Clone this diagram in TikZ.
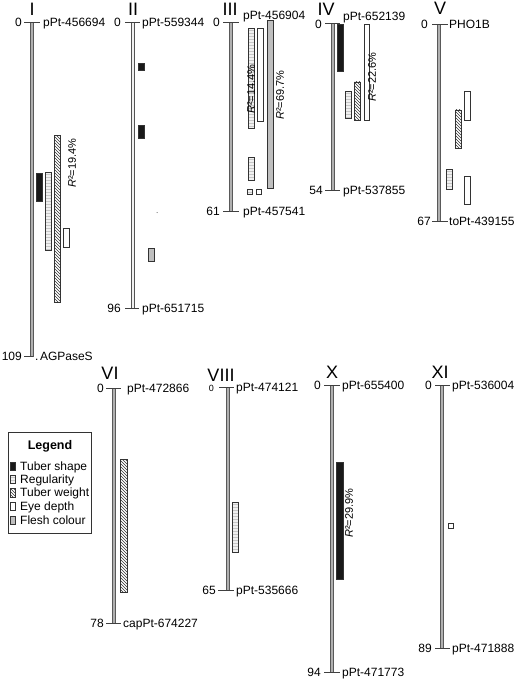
\documentclass[tikz,border=0pt]{standalone}
\usepackage{fontspec}
\setmainfont{Liberation Sans}
\usetikzlibrary{patterns}
\begin{document}
\begin{tikzpicture}[x=1pt,y=-1pt,
  lbl/.style={font=\fontsize{12}{14}\selectfont, inner sep=0pt, text height=8.6pt, text depth=0pt},
  lgt/.style={font=\fontsize{12}{14}\selectfont, inner sep=0pt, text height=8.6pt, text depth=0pt, anchor=west},
  rom/.style={font=\fontsize{18}{20}\selectfont, inner sep=0pt},
  rsq/.style={font=\fontsize{11}{13}\selectfont, inner sep=0pt, rotate=90},
  chr/.style={fill=gray!62, draw=gray!70!black, line width=0.3pt},
  tk/.style={draw=black!75, line width=0.6pt},
  q/.style={draw=black!80, line width=0.6pt},
  shp/.style={q, fill=black!90},
  reg/.style={q, preaction={fill=gray!12}, pattern=horizontal lines, pattern color=gray!45},
  wgt/.style={q, preaction={fill=white}, pattern=north west lines, pattern color=black!80},
  eye/.style={q, fill=white},
  fl/.style={q, fill=gray!50},
]
\useasboundingbox[fill=white] (0,0) rectangle (520,682);

% ---------- I ----------
\path[chr] (30.5,22) rectangle (33.5,356);
\draw[tk] (24,22) -- (40,22);
\draw[tk] (24,356) -- (33,356);
\node[rom] (t1) at (32,9.5) {I};
\node[lbl, anchor=east] (z1) at (22,22) {0};
\node[lbl, anchor=west] (m1a) at (43,22) {pPt-456694};
\node[lbl, anchor=east] (e1) at (22,356) {109};
\node[lbl, anchor=west] (m1b) at (35,356) {.\hspace{1.5pt}AGPaseS};
\path[shp] (36,173) rectangle (42,201);
\path[reg] (45,172) rectangle (51,250);
\path[wgt] (54,135) rectangle (60,302);
\path[eye] (63,228) rectangle (69,247);
\node[rsq] (r1) at (72,163) {{\itshape R}²=19.4\%};

% ---------- II ----------
\path[draw=gray!65!black, fill=gray!12, line width=0.7pt] (131.2,22) rectangle (134.8,308);
\draw[tk] (125,22) -- (140,22);
\draw[tk] (125,308) -- (139,308);
\node[rom] (t2) at (133,9.5) {II};
\node[lbl, anchor=east] (z2) at (121,22) {0};
\node[lbl, anchor=west] (m2a) at (142,22) {pPt-559344};
\node[lbl, anchor=east] (e2) at (121,308) {96};
\node[lbl, anchor=west] (m2b) at (142,308) {pPt-651715};
\path[shp] (138,63) rectangle (144,70);
\path[shp] (138,125) rectangle (144.5,138);
\fill[black!70] (157,212.5) circle (0.5);
\path[fl] (148,248) rectangle (154,261);

% ---------- III ----------
\path[chr] (229.5,22) rectangle (232.5,211);
\draw[tk] (223,22) -- (239,22);
\draw[tk] (223,211) -- (239,211);
\node[rom] (t3) at (230,9.5) {III};
\node[lbl, anchor=east] (z3) at (220,22) {0};
\node[lbl, anchor=west] (m3a) at (243,15) {pPt-456904};
\node[lbl, anchor=east] (e3) at (220,211) {61};
\node[lbl, anchor=west] (m3b) at (243,211) {pPt-457541};
\path[reg] (248,28) rectangle (254,128);
\path[eye] (257,28) rectangle (263,121);
\path[fl] (267,20) rectangle (273,188);
\path[reg] (248,157) rectangle (254,180);
\path[reg] (247,189) rectangle (252,194);
\path[eye] (256,189) rectangle (261,194);
\node[rsq] (r3a) at (251,89) {{\itshape R}²=14.4\%};
\node[rsq] (r3b) at (280,95) {{\itshape R}²=69.7\%};

% ---------- IV ----------
\path[chr] (331.5,23) rectangle (334.5,190);
\draw[tk] (325,23) -- (340,23);
\draw[tk] (325,190) -- (340,190);
\node[rom] (t4) at (326,9) {IV};
\node[lbl, anchor=east] (z4) at (322,24) {0};
\node[lbl, anchor=west] (m4a) at (343,16) {pPt-652139};
\node[lbl, anchor=east] (e4) at (323,190) {54};
\node[lbl, anchor=west] (m4b) at (343,190) {pPt-537855};
\path[shp] (337,24) rectangle (343,71);
\path[reg] (345,91) rectangle (351,118);
\path[wgt] (354,82) rectangle (360,120);
\path[eye] (364,24) rectangle (369,120);
\node[rsq] (r4) at (372,77) {{\itshape R}²=22.6\%};

% ---------- V ----------
\path[chr] (437.5,24) rectangle (440.5,221);
\draw[tk] (432,24) -- (448,24);
\draw[tk] (432,221) -- (448,221);
\node[rom] (t5) at (440,8.5) {V};
\node[lbl, anchor=east] (z5) at (428,24) {0};
\node[lbl, anchor=west] (m5a) at (449,24) {PHO1B};
\node[lbl, anchor=east] (e5) at (431,221) {67};
\node[lbl, anchor=west] (m5b) at (449,221) {toPt-439155};
\path[eye] (464,91) rectangle (470,120);
\path[wgt] (455,110) rectangle (461,148);
\path[reg] (446,169) rectangle (452,189);
\path[eye] (464,176) rectangle (470,204);

% ---------- Legend ----------
\node[draw=black!80, line width=0.6pt, minimum width=83pt, minimum height=101pt, anchor=north west, inner sep=0pt] (leg) at (8,432) {};
\node[font=\fontsize{12.5}{14}\selectfont\bfseries, inner sep=0pt] (legt) at (50,446) {Legend};
\path[shp] (10,462) rectangle (15,470.5);
\node[lgt] (l1) at (20,466) {Tuber shape};
\path[reg] (10,475) rectangle (15,483.5);
\node[lgt] (l2) at (20,479) {Regularity};
\path[wgt] (10,488.5) rectangle (15,497);
\node[lgt] (l3) at (20,492.5) {Tuber weight};
\path[eye] (10,502) rectangle (15,510.5);
\node[lgt] (l4) at (20,506) {Eye depth};
\path[fl] (10,516) rectangle (15,524.5);
\node[lgt] (l5) at (20,520) {Flesh colour};

% ---------- VI ----------
\path[chr] (112.5,388) rectangle (115.5,623);
\draw[tk] (106,388) -- (121,388);
\draw[tk] (106,623) -- (121,623);
\node[rom] (t6) at (110,373) {VI};
\node[lbl, anchor=east] (z6) at (104,388) {0};
\node[lbl, anchor=west] (m6a) at (127,388) {pPt-472866};
\node[lbl, anchor=east] (e6) at (104,623) {78};
\node[lbl, anchor=west] (m6b) at (123,623) {capPt-674227};
\path[wgt] (120,459) rectangle (127,592);

% ---------- VIII ----------
\path[chr] (226.5,387) rectangle (229.5,590);
\draw[tk] (219,387) -- (234,387);
\draw[tk] (218,590) -- (234,590);
\node[rom] (t8) at (221,375.5) {VIII};
\node[font=\fontsize{9}{10}\selectfont, inner sep=0pt, text height=6.5pt, text depth=0pt, anchor=east] (z8) at (214,388.5) {0};
\node[lbl, anchor=west] (m8a) at (236,387) {pPt-474121};
\node[lbl, anchor=east] (e8) at (216,590) {65};
\node[lbl, anchor=west] (m8b) at (236,590) {pPt-535666};
\path[reg] (232,502) rectangle (238,552);

% ---------- X ----------
\path[chr] (330.5,385) rectangle (333.5,672);
\draw[tk] (324,385) -- (340,385);
\draw[tk] (324,672) -- (340,672);
\node[rom] (t10) at (332,372) {X};
\node[lbl, anchor=east] (z10) at (321,385) {0};
\node[lbl, anchor=west] (m10a) at (342,385) {pPt-655400};
\node[lbl, anchor=east] (e10) at (321,672) {94};
\node[lbl, anchor=west] (m10b) at (342,672) {pPt-471773};
\path[shp] (336,462) rectangle (343,579);
\node[rsq] (r10) at (349,513) {{\itshape R}²=29.9\%};

% ---------- XI ----------
\path[chr] (440.5,385) rectangle (443.5,648);
\draw[tk] (435,385) -- (450,385);
\draw[tk] (435,648) -- (450,648);
\node[rom] (t11) at (440,372) {XI};
\node[lbl, anchor=east] (z11) at (432,385) {0};
\node[lbl, anchor=west] (m11a) at (452,385) {pPt-536004};
\node[lbl, anchor=east] (e11) at (432,648) {89};
\node[lbl, anchor=west] (m11b) at (452,648) {pPt-471888};
\path[eye] (448,523) rectangle (453,528);
\end{tikzpicture}
\end{document}
